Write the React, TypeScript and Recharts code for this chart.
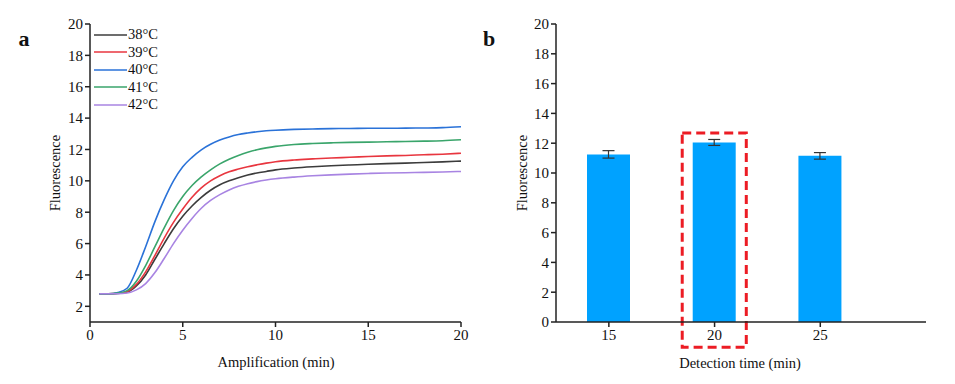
import React from "react";
import { LineChart, Line, XAxis, YAxis, Legend, BarChart, Bar, ErrorBar, ReferenceArea } from "recharts";

const FONT = "'Liberation Serif', 'Times New Roman', serif";

// panel a: amplification curves
const ampTime = [0.5, 1, 1.5, 2, 2.5, 3, 3.5, 4, 4.5, 5, 5.5, 6, 6.5, 7, 7.5, 8, 8.5, 9, 9.5, 10, 11, 12, 13, 14, 15, 16, 17, 18, 19, 20];
const f38 = [2.8, 2.8, 2.82, 2.9, 3.3, 4.0, 5.0, 6.0, 6.95, 7.75, 8.4, 8.95, 9.4, 9.75, 10.0, 10.2, 10.37, 10.5, 10.6, 10.7, 10.82, 10.9, 10.96, 11.01, 11.06, 11.1, 11.13, 11.17, 11.21, 11.26];
const f39 = [2.8, 2.8, 2.83, 2.95, 3.4, 4.2, 5.25, 6.35, 7.35, 8.2, 8.95, 9.55, 10.0, 10.33, 10.58, 10.75, 10.9, 11.02, 11.13, 11.22, 11.33, 11.4, 11.46, 11.5, 11.55, 11.59, 11.62, 11.66, 11.7, 11.76];
const f40 = [2.8, 2.8, 2.88, 3.15, 4.3, 5.8, 7.4, 8.8, 10.0, 10.9, 11.5, 11.98, 12.33, 12.6, 12.8, 12.95, 13.05, 13.13, 13.19, 13.23, 13.28, 13.31, 13.33, 13.34, 13.35, 13.35, 13.36, 13.37, 13.39, 13.45];
const f41 = [2.8, 2.8, 2.84, 3.0, 3.6, 4.6, 5.8, 7.0, 8.1, 9.0, 9.7, 10.25, 10.7, 11.08, 11.38, 11.62, 11.82, 11.98, 12.1, 12.2, 12.32, 12.38, 12.42, 12.45, 12.47, 12.49, 12.51, 12.53, 12.56, 12.62];
const f42 = [2.8, 2.8, 2.8, 2.85, 3.05, 3.45, 4.15, 5.05, 6.0, 6.85, 7.6, 8.25, 8.75, 9.12, 9.42, 9.65, 9.82, 9.95, 10.05, 10.13, 10.24, 10.32, 10.38, 10.43, 10.47, 10.5, 10.52, 10.54, 10.56, 10.6];
const ampTicks = [0, 5, 10, 15, 20];
const fluoTicksA = [2, 4, 6, 8, 10, 12, 14, 16, 18, 20];

const series = [
  { key: "t38", name: "38°C", values: f38, color: "#3c3c3c" },
  { key: "t39", name: "39°C", values: f39, color: "#e8363f" },
  { key: "t40", name: "40°C", values: f40, color: "#2a72d8" },
  { key: "t41", name: "41°C", values: f41, color: "#3aa56b" },
  { key: "t42", name: "42°C", values: f42, color: "#a884e2" },
];

// panel b: detection time
const detTime = [15, 20, 25];
const detMean = [11.25, 12.05, 11.15];
const detErr = [0.25, 0.2, 0.22];
const detTicks = [15, 20, 25];
const fluoTicksB = [0, 2, 4, 6, 8, 10, 12, 14, 16, 18, 20];

const ampData = ampTime.map((t, i) => {
  const row: Record<string, number> = { time: t };
  series.forEach((s) => (row[s.key] = s.values[i]));
  return row;
});

const detData = detTime.map((t, i) => ({ time: t, value: detMean[i], err: detErr[i] }));

const tickStyle = { fontFamily: FONT, fontSize: 15, fill: "#111" };
const axisStroke = { stroke: "#222", strokeWidth: 1.5 };

const TempLegend = ({ payload }: any) => (
  <div style={{ fontFamily: FONT, fontSize: 14.5, color: "#111" }}>
    {(payload || []).map((p: any) => (
      <div key={p.value} style={{ display: "flex", alignItems: "center", height: 17.5 }}>
        <svg width={33} height={4}>
          <line x1={0} y1={2} x2={33} y2={2} stroke={p.color} strokeWidth={1.5} />
        </svg>
        <span style={{ marginLeft: 1 }}>{p.value}</span>
      </div>
    ))}
  </div>
);

const text = (s: string, left: number, top: number, extra: React.CSSProperties = {}) => (
  <div
    style={{
      position: "absolute",
      left,
      top,
      transform: "translate(-50%, -50%)",
      whiteSpace: "nowrap",
      fontFamily: FONT,
      fontSize: 14.5,
      color: "#111",
      ...extra,
    }}
  >
    {s}
  </div>
);

export default function App() {
  return (
    <div style={{ position: "absolute", left: 0, top: 0, width: 955, height: 384, background: "#fff", overflow: "hidden", fontFamily: FONT }}>
      <div style={{ position: "absolute", left: 0, top: 0 }}>
        <LineChart width={480} height={384} data={ampData} margin={{ top: 24, right: 19, left: 30, bottom: 17 }}>
          <XAxis
            dataKey="time"
            type="number"
            domain={[0, 20]}
            ticks={ampTicks}
            tick={tickStyle}
            axisLine={axisStroke}
            tickLine={axisStroke}
            tickSize={5}
            height={45}
          />
          <YAxis
            type="number"
            domain={[1, 20]}
            ticks={fluoTicksA}
            tick={tickStyle}
            axisLine={axisStroke}
            tickLine={axisStroke}
            tickSize={5}
            width={60}
          />
          {series.map((s) => (
            <Line
              key={s.key}
              type="monotone"
              dataKey={s.key}
              name={s.name}
              stroke={s.color}
              strokeWidth={1.6}
              dot={false}
              isAnimationActive={false}
            />
          ))}
          <Legend
            layout="vertical"
            align="center"
            verticalAlign="middle"
            content={<TempLegend />}
            wrapperStyle={{ left: 94, top: 26, width: 120, height: 90 }}
          />
        </LineChart>
      </div>

      <div style={{ position: "absolute", left: 480, top: 0 }}>
        <BarChart width={475} height={384} data={detData} margin={{ top: 24, right: 29, left: 26, bottom: 17 }}>
          <XAxis
            dataKey="time"
            type="number"
            domain={[12.5, 30]}
            ticks={detTicks}
            tick={tickStyle}
            axisLine={axisStroke}
            tickLine={axisStroke}
            tickSize={5}
            height={45}
          />
          <YAxis
            type="number"
            domain={[0, 20]}
            ticks={fluoTicksB}
            tick={tickStyle}
            axisLine={axisStroke}
            tickLine={axisStroke}
            tickSize={5}
            width={50}
          />
          <Bar dataKey="value" fill="#00a2ff" barSize={43} isAnimationActive={false}>
            <ErrorBar dataKey="err" width={6} stroke="#333" strokeWidth={1.2} />
          </Bar>
          <ReferenceArea
            x1={18.47}
            x2={21.5}
            y1={-1.7}
            y2={12.68}
            ifOverflow="visible"
            fill="none"
            fillOpacity={0}
            stroke="#ec1c24"
            strokeWidth={3}
            strokeDasharray="9 5"
          />
        </BarChart>
      </div>

      {text("a", 24, 39, { fontWeight: "bold", fontSize: 22 })}
      {text("b", 489, 39, { fontWeight: "bold", fontSize: 22 })}
      {text("Amplification (min)", 276, 362)}
      {text("Detection time (min)", 740, 363)}
      {text("Fluorescence", 55, 173, { transform: "translate(-50%, -50%) rotate(-90deg)" })}
      {text("Fluorescence", 522, 173, { transform: "translate(-50%, -50%) rotate(-90deg)" })}
    </div>
  );
}
